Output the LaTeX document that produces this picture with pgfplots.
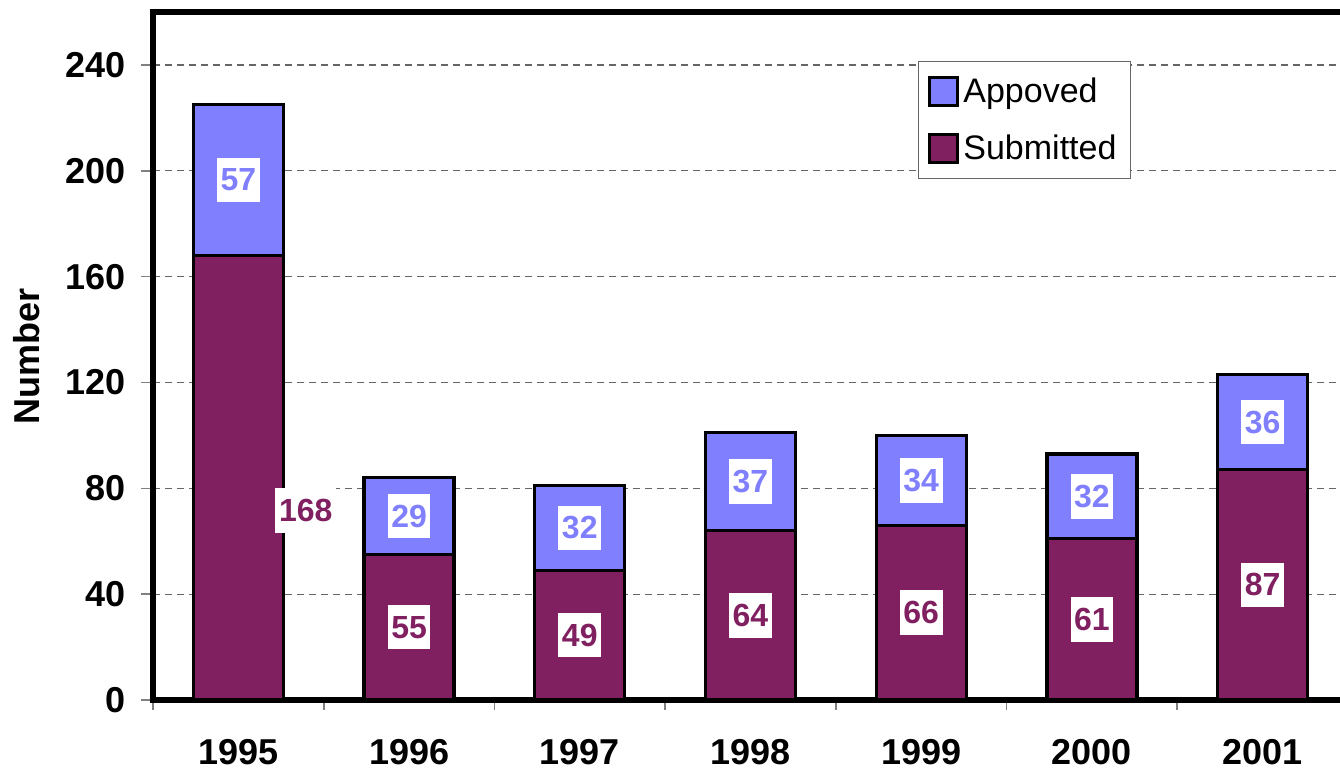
\documentclass[border=0pt]{standalone}
\usepackage{pgfplots}
\pgfplotsset{compat=1.18}
\usepackage{pgfplotstable}
\usepackage{fontspec}
\setmainfont{Liberation Sans}
\definecolor{subm}{HTML}{802060}
\definecolor{appr}{HTML}{8080FF}
\pgfplotstableread{
x sub app
0 168 57
1 55 29
2 49 32
3 64 37
4 66 34
5 61 32
6 87 36
}\datatable
\pgfplotstableread{
x y lab
0.395 71.7 168
1 27.5 55
2 24.5 49
3 32 64
4 33 66
5 30.5 61
6 43.5 87
}\sublabels
\pgfplotstableread{
x y lab
0 196.5 57
1 69.5 29
2 65 32
3 82.5 37
4 83 34
5 77 32
6 105 36
}\applabels
\begin{document}
\begin{tikzpicture}
\begin{axis}[
  scale only axis,
  width=597.5pt, height=344pt,
  at={(0,0)}, anchor=south west,
  xmin=-0.5, xmax=6.5, ymin=0, ymax=260,
  set layers,
  axis line style={line width=3.3pt, on layer=axis foreground},
  tick pos=left,
  tick align=outside,
  xtick={0,...,6},
  xticklabels={1995,1996,1997,1998,1999,2000,2001},
  xtick style={draw=none},
  minor xtick={-0.5,0.5,...,6.5},
  minor x tick style={draw=gray, line width=0.8pt},
  minor tick length=5pt,
  major tick length=6pt,
  ytick={0,40,...,240},
  ytick style={draw=gray, line width=0.8pt},
  ymajorgrids,
  major grid style={draw=black!60, line width=0.6pt, dash pattern=on 3.5pt off 2.5pt},
  /pgf/number format/assume math mode=true,
  tick label style={font=\bfseries\fontsize{18}{20}\selectfont},
  xticklabel style={yshift=-10pt},
  yticklabel style={xshift=-4pt},
  ylabel={Number},
  ylabel style={at={(axis description cs:-0.1054,0.5)}, anchor=center, font=\bfseries\fontsize{18}{20}\selectfont},
  legend style={at={(0.640,0.929)}, anchor=north west, draw=black!60, line width=0.6pt,
    font=\fontsize{17}{20}\selectfont, row sep=11pt, inner xsep=5pt, inner ysep=6pt,
    cells={anchor=west}},
  legend cell align=left,
]
\addplot[ybar, bar width=45pt, bar shift=0pt, fill=appr, draw=black, line width=1.6pt,
  legend image code/.code={\draw[fill=appr, draw=black, line width=1.5pt] (0pt,-7pt) rectangle (14pt,7pt);}]
  table[x=x, y expr=\thisrow{sub}+\thisrow{app}] {\datatable};
\addlegendentry{Appoved}
\addplot[ybar, bar width=45pt, bar shift=0pt, fill=subm, draw=black, line width=1.6pt,
  legend image code/.code={\draw[fill=subm, draw=black, line width=1.5pt] (0pt,-7pt) rectangle (14pt,7pt);}]
  table[x=x, y=sub] {\datatable};
\addlegendentry{Submitted}
\addplot[draw=none, mark=none, forget plot, nodes near coords, point meta=explicit symbolic,
  nodes near coords align=center,
  every node near coord/.append style={anchor=center, fill=white, text=appr,
    font=\bfseries\fontsize{16}{16}\selectfont, inner xsep=1.8pt, inner ysep=5.5pt}]
  table[x=x, y=y, meta=lab] {\applabels};
\addplot[draw=none, mark=none, forget plot, nodes near coords, point meta=explicit symbolic,
  nodes near coords align=center,
  every node near coord/.append style={anchor=center, fill=white, text=subm,
    font=\bfseries\fontsize{16}{16}\selectfont, inner xsep=1.8pt, inner ysep=5.5pt}]
  table[x=x, y=y, meta=lab] {\sublabels};
\end{axis}
\pgfresetboundingbox
\path[use as bounding box] (-76.5pt,-35.5pt) rectangle (593.5pt,350pt);
\end{tikzpicture}
\end{document}
